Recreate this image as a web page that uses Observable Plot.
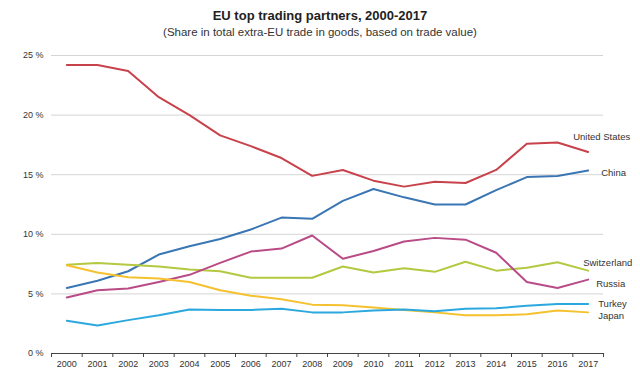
<!DOCTYPE html>
<html>
<head>
<meta charset="utf-8">
<script src="https://cdn.jsdelivr.net/npm/d3@7"></script>
<script src="https://cdn.jsdelivr.net/npm/@observablehq/plot@0.6"></script>
<style>
  html, body { margin: 0; padding: 0; background: #fff; }
  #wrap { position: relative; width: 640px; height: 377px; font-family: "Liberation Sans", Arial, sans-serif; }
  #title { position: absolute; top: 8px; left: 0; width: 640px; text-align: center; font-weight: bold; font-size: 13px; color: #222; }
  #subtitle { position: absolute; top: 26px; left: 0; width: 640px; text-align: center; font-size: 11.5px; color: #333; }
  #chart { position: absolute; top: 45px; left: 0; }
</style>
</head>
<body>
<div id="wrap">
  <div id="title">EU top trading partners, 2000-2017</div>
  <div id="subtitle">(Share in total extra-EU trade in goods, based on trade value)</div>
  <div id="chart"></div>
</div>
<script>
const years = [2000,2001,2002,2003,2004,2005,2006,2007,2008,2009,2010,2011,2012,2013,2014,2015,2016,2017];
const unitedStates = [24.2,24.2,23.7,21.5,20.0,18.3,17.4,16.4,14.9,15.4,14.5,14.0,14.4,14.3,15.4,17.6,17.7,16.9];
const china        = [5.5,6.1,6.9,8.3,9.0,9.6,10.4,11.4,11.3,12.8,13.8,13.1,12.5,12.5,13.7,14.8,14.9,15.35];
const switzerland  = [7.45,7.6,7.45,7.3,7.05,6.9,6.35,6.35,6.35,7.3,6.8,7.15,6.85,7.7,6.95,7.2,7.65,6.95];
const russia       = [4.7,5.3,5.45,6.0,6.6,7.6,8.55,8.8,9.9,7.95,8.6,9.4,9.7,9.55,8.45,6.0,5.5,6.2];
const japan        = [7.4,6.8,6.4,6.3,6.0,5.3,4.85,4.55,4.1,4.05,3.85,3.65,3.45,3.2,3.2,3.3,3.6,3.45];
const turkey       = [2.75,2.35,2.8,3.2,3.7,3.65,3.65,3.75,3.45,3.45,3.6,3.7,3.55,3.75,3.8,4.0,4.15,4.15];
const seriesNames  = ["United States","China","Switzerland","Russia","Japan","Turkey"];
const seriesValues = [unitedStates, china, switzerland, russia, japan, turkey];
const seriesColors = ["#c8424c","#3a76b3","#b4c840","#b94b86","#f5c12e","#2ba8dd"];
const yTicks = [0,5,10,15,20,25];

const data = [];
seriesNames.forEach((name, i) => {
  years.forEach((yr, j) => data.push({series: name, year: yr, value: seriesValues[i][j]}));
});
const n = years.length - 1;
const last = seriesNames.map((name, i) => ({series: name, year: years[n], value: seriesValues[i][n]}));
// label nudges (pixels) relative to each series' final point
const nudge = {
  "United States": [-15, -15],
  "China": [13, 2],
  "Switzerland": [-5, -8],
  "Russia": [8, 4],
  "Japan": [10, 4],
  "Turkey": [10, 0]
};
const halfYears = d3.range(years[0] - 0.5, years[n] + 1, 1);

const labelMarks = last.map(d => Plot.text([d], {
  x: "year", y: "value", text: "series", textAnchor: "start",
  dx: nudge[d.series][0], dy: nudge[d.series][1], fill: "#333", fontSize: 9.5
}));

const chart = Plot.plot({
  width: 640,
  height: 332,
  marginLeft: 51,
  marginRight: 37,
  marginTop: 10,
  marginBottom: 24,
  style: {fontFamily: "Liberation Sans, Arial, sans-serif", fontSize: "9px", color: "#333", background: "white", overflow: "visible"},
  x: {domain: [years[0] - 0.5, years[n] + 0.5]},
  y: {domain: [0, 25]},
  color: {domain: seriesNames, range: seriesColors},
  marks: [
    Plot.gridY(yTicks.filter(d => d > 0), {stroke: "#d4d4d4", strokeOpacity: 1, strokeWidth: 1}),
    Plot.axisY(yTicks, {tickSize: 0, tickPadding: 8, tickFormat: d => d + " %", label: null, fill: "#333"}),
    Plot.axisX(years, {tickSize: 0, tickPadding: 7, tickFormat: d => String(d), label: null, fill: "#333"}),
    Plot.axisX(halfYears, {tickSize: 4, tickFormat: () => "", label: null, stroke: "#444"}),
    Plot.ruleY([0], {stroke: "#444", strokeWidth: 1}),
    Plot.line(data, {x: "year", y: "value", z: "series", stroke: "series", strokeWidth: 2, curve: "linear"}),
    ...labelMarks
  ]
});
document.getElementById("chart").appendChild(chart);
</script>
</body>
</html>
